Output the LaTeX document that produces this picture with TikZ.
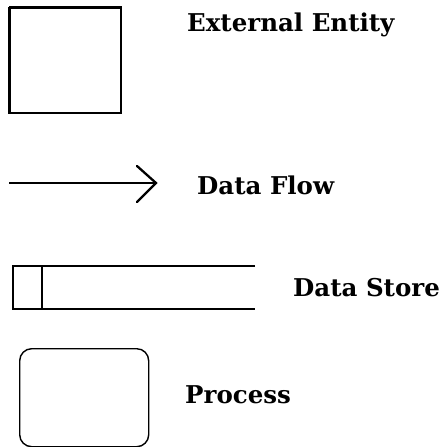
\documentclass[tikz,border=0pt]{standalone}
\usepackage{fontspec}
\setmainfont{DejaVu Serif}
\begin{document}
\begin{tikzpicture}[x=1pt,y=-1pt,
  label/.style={anchor=west,inner sep=0pt,font=\bfseries\fontsize{24.5}{24.5}\selectfont},
  shape line/.style={draw=black,line width=1.4pt}]
\useasboundingbox (0,0) rectangle (442,447);
% external entity: square with heavier top and left edges
\node[shape line,line width=2pt,minimum width=111pt,minimum height=105pt,inner sep=0pt,anchor=north west] (ent) at (9,7) {};
\draw[line width=1.2pt] (ent.north west) -- (ent.north east);
\draw[line width=1.2pt] (ent.north west) -- (ent.south west);
\node[label] (entlbl) at (187,25) {External Entity};
% data flow: line with an open chevron head
\coordinate (fs) at (9,183);
\coordinate (fe) at (156,183);
\draw[line width=1.1pt] (fs) -- (fe);
\draw[line width=2.3pt,line cap=round,line join=miter] (137,166) -- (fe) -- (137,202);
\node[label] (flowlbl) at (197,185) {Data Flow};
% data store: open-ended bar with a label cell
\coordinate (dsa) at (255,266);
\coordinate (dsb) at (13,266);
\coordinate (dsc) at (13,309);
\coordinate (dsd) at (255,309);
\draw[shape line] (dsa) -- (dsb) -- (dsc) -- (dsd);
\draw[shape line] (42,266) -- (42,309);
\node[label] (storelbl) at (293,288) {Data Store};
% process: rounded rectangle
\node[shape line,rounded corners=12pt,minimum width=129pt,minimum height=98pt,inner sep=0pt,anchor=north west] (proc) at (19,348) {};
\node[label] (proclbl) at (185,395) {Process};
\end{tikzpicture}
\end{document}
